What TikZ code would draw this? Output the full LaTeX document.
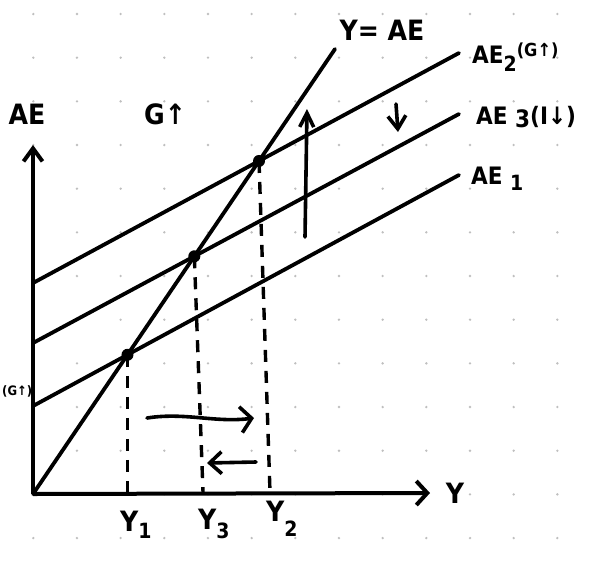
\documentclass[tikz,border=0pt]{standalone}
\usepackage{fontspec}
\setmainfont{DejaVu Sans Condensed}
\usetikzlibrary{arrows.meta,intersections}
\newcommand{\lowidx}[2][0.3em]{\raisebox{-#1}{\fontsize{21}{21}\selectfont #2}}
\begin{document}
\begin{tikzpicture}[x=1pt,y=-1pt,
  curve/.style={line width=3.8pt, line cap=round},
  axis/.style={line width=4pt},
  guide/.style={line width=3.4pt, dash pattern=on 12pt off 9pt},
  gdot/.style={fill=gray!50, draw=none},
  big/.style={font=\bfseries\fontsize{28}{28}\selectfont, inner sep=0pt},
  mid/.style={font=\bfseries\fontsize{24}{24}\selectfont, inner sep=0pt, anchor=west},
  movearrow/.style={line width=3.6pt, line cap=round},
  eq/.style={circle, fill=black, inner sep=0pt, minimum size=12pt}
]
\fill[white] (0,0) rectangle (596,560);
\useasboundingbox (0,0) rectangle (596,560);
\foreach \i in {0,...,12} \foreach \j in {0,...,12}
  \fill[gdot] (33.3+43.67*\i, 14+43.67*\j) circle (1.3pt);

% coordinates
\coordinate (O) at (33,494);
\coordinate (Ytop) at (33,145);
\coordinate (Xend) at (430,493);
\coordinate (L) at (335,49);
\coordinate (a1s) at (33,406); \coordinate (a1e) at (459,175);
\coordinate (a3s) at (33,343); \coordinate (a3e) at (459,114);
\coordinate (a2s) at (33,283); \coordinate (a2e) at (459,53);

% axes
\draw[axis, -{Straight Barb[length=13pt,width=19pt]}] (O) -- (Ytop);
\draw[axis, -{Straight Barb[length=11pt,width=24pt]}] (O) -- (Xend);

% lines
\draw[curve, name path=yae] (O) -- (L);
\draw[curve, name path=ae1] (a1s) -- (a1e);
\draw[curve, name path=ae3] (a3s) -- (a3e);
\draw[curve, name path=ae2] (a2s) -- (a2e);
\path[name intersections={of=yae and ae1, by=E1}];
\path[name intersections={of=yae and ae3, by=E3}];
\path[name intersections={of=yae and ae2, by=E2}];

% guides
\coordinate (Y3b) at (203,492);
\coordinate (Y2b) at (270,492);
\draw[guide] (E1) -- (E1 |- O);
\draw[guide] (E3) -- (Y3b);
\draw[guide] (E2) -- (Y2b);

% equilibrium dots
\node[eq] (d1) at (E1) {};
\node[eq] (d3) at (E3) {};
\node[eq] (d2) at (E2) {};

% shift arrows
\coordinate (u1) at (305,237); \coordinate (u2) at (307,109);
\draw[movearrow, -{Straight Barb[length=14pt,width=14pt]}] (u1) -- (u2);
\coordinate (v1) at (396,104); \coordinate (v2) at (398,132);
\draw[movearrow, -{Straight Barb[length=13pt,width=18pt]}] (v1) -- (v2);
\coordinate (h1) at (147,418); \coordinate (h2) at (254,418);
\draw[movearrow, -{Straight Barb[length=11pt,width=26pt]}] (h1) .. controls (185,412) and (215,423) .. (h2);
\coordinate (h3) at (256,462); \coordinate (h4) at (207,463);
\draw[movearrow, -{Straight Barb[length=12pt,width=22pt]}] (h3) -- (h4);

% labels
\node[big] (lae) at (27,114) {AE};
\node[big] (lg) at (165,114) {G↑};
\node[big] (lyae) at (382,30) {Y= AE};
\node[big] (lY) at (455,493) {Y};
\node[font=\bfseries\fontsize{13}{13}\selectfont, inner sep=0pt, anchor=west] (lgl) at (2,391) {(G↑)};
\node[big, anchor=west] (ly1) at (120,525) {Y\lowidx[0.25em]{1}};
\node[big, anchor=west] (ly3) at (198,524) {Y\lowidx[0.35em]{3}};
\node[big, anchor=west] (ly2) at (266,519) {Y\lowidx[0.55em]{2}};
\node[mid] (l2) at (472,57) {AE\lowidx[0.35em]{2}\raisebox{0.3em}{\fontsize{18}{18}\selectfont (G↑)}};
\node[mid] (l3) at (476,117) {AE \raisebox{-0.12em}{3}(I↓)};
\node[mid] (l1) at (471,179) {AE \lowidx[0.25em]{1}};
\end{tikzpicture}
\end{document}
